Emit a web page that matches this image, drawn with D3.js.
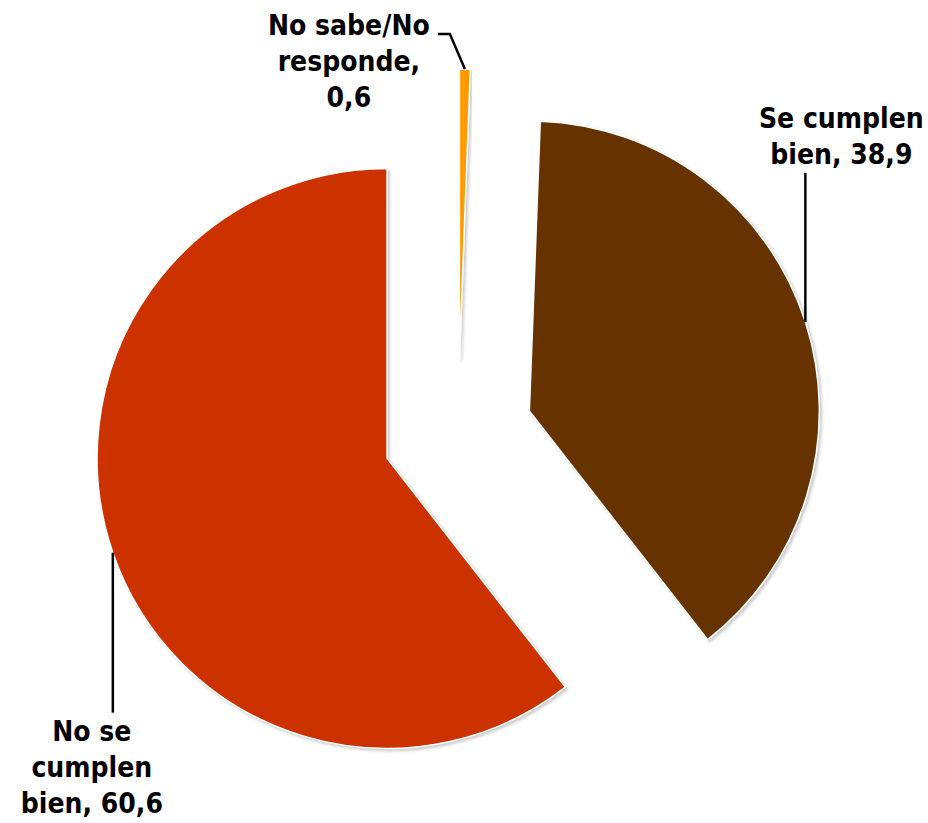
<!DOCTYPE html>
<html>
<head>
<meta charset="utf-8">
<script src="https://cdn.jsdelivr.net/npm/d3@7"></script>
<style>
  html, body { margin: 0; padding: 0; background: #fff; }
  svg { display: block; }
  .lbl { font-family: "DejaVu Sans Condensed", "DejaVu Sans", sans-serif; font-stretch: condensed; font-weight: bold; font-size: 28px; fill: #000; }
</style>
</head>
<body>
<div id="chart"></div>
<script>
// データ
const categories = ["No sabe/No responde", "Se cumplen bien", "No se cumplen bien"];
const values = [0.6, 38.9, 60.6];
const valueLabels = ["0,6", "38,9", "60,6"];
const labelLines = [
    ["No sabe/No", "responde,", "0,6"],
    ["Se cumplen", "bien, 38,9"],
    ["No se", "cumplen", "bien, 60,6"]
];
const colors = ["#FF9900", "#663300", "#CC3300"];

const width = 928, height = 823;
const cx = 458, cy = 434;
const radius = 290;
const explode = 75;
const lineHeight = 36;

// ラベル配置 (アンカー点からの相対位置)
const labelLayout = [
    { path: [[-15, -35], [-27, -35]], tx: -116, ty: -34 },
    { path: [[0, -149]], tx: 36, ty: -194 },
    { path: [[0, 160]], tx: -21, ty: 188 }
];

const svg = d3.select("#chart")
    .append("svg")
    .attr("width", width)
    .attr("height", height);

const defs = svg.append("defs");
const shadow = defs.append("filter")
    .attr("id", "shadow")
    .attr("x", "-10%").attr("y", "-10%")
    .attr("width", "120%").attr("height", "120%");
shadow.append("feDropShadow")
    .attr("dx", 2).attr("dy", 2)
    .attr("stdDeviation", 1.5)
    .attr("flood-color", "#888")
    .attr("flood-opacity", 0.45);

const pie = d3.pie().sort(null).value(d => d)(values);
const arc = d3.arc().innerRadius(0).outerRadius(radius);

const g = svg.append("g").attr("transform", `translate(${cx},${cy})`);

pie.forEach((d, i) => {
    const mid = (d.startAngle + d.endAngle) / 2;
    const ox = explode * Math.sin(mid);
    const oy = -explode * Math.cos(mid);

    g.append("path")
        .attr("d", arc(d))
        .attr("transform", `translate(${ox},${oy})`)
        .attr("fill", colors[i])
        .attr("stroke", "#fff")
        .attr("stroke-width", 1.5)
        .attr("stroke-linejoin", "round")
        .attr("filter", "url(#shadow)");
});

// ラベルと引き出し線
pie.forEach((d, i) => {
    const mid = (d.startAngle + d.endAngle) / 2;
    const ax = (explode + radius) * Math.sin(mid);
    const ay = -(explode + radius) * Math.cos(mid);
    const lay = labelLayout[i];

    const pts = [[ax, ay]].concat(lay.path.map(p => [ax + p[0], ay + p[1]]));
    g.append("path")
        .attr("d", d3.line()(pts))
        .attr("fill", "none")
        .attr("stroke", "#000")
        .attr("stroke-width", 2.5);

    const text = g.append("text")
        .attr("class", "lbl")
        .attr("text-anchor", "middle")
        .attr("x", ax + lay.tx)
        .attr("y", ay + lay.ty);

    labelLines[i].forEach((t, j) => {
        text.append("tspan")
            .attr("x", ax + lay.tx)
            .attr("dy", j === 0 ? 0 : lineHeight)
            .text(t);
    });
});
</script>
</body>
</html>
